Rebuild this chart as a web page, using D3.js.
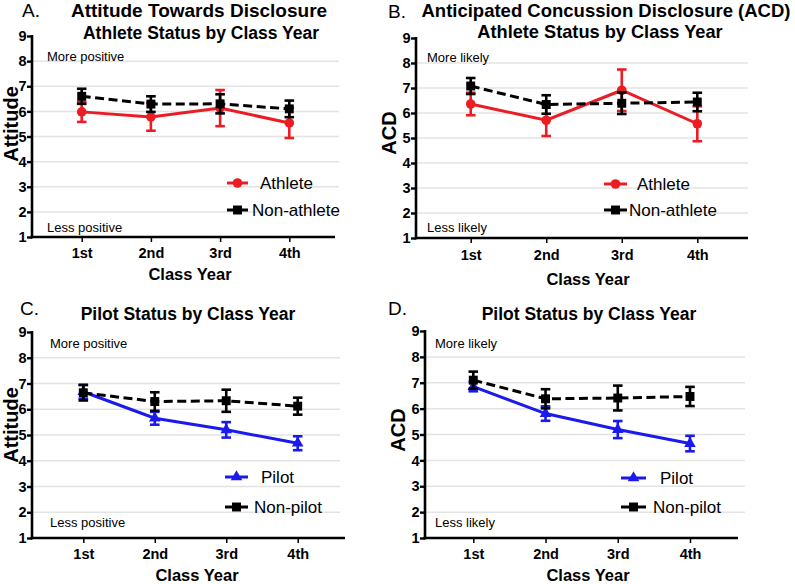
<!DOCTYPE html>
<html><head><meta charset="utf-8">
<script src="https://cdn.jsdelivr.net/npm/d3@7"></script>
<style>
body{margin:0;background:#fff}
svg{display:block}
text{font-family:"Liberation Sans",Arial,Helvetica,sans-serif;fill:#000}
</style>
</head><body><svg id="c" width="795" height="584"></svg>
<script>
// ---------------- data ----------------
const classYears = ["1st", "2nd", "3rd", "4th"];
const yTickValues = [1, 2, 3, 4, 5, 6, 7, 8, 9];
const gridValues = [2, 3, 4, 5, 6, 7, 8];

// Panel A: Attitude, athlete status
const attAthleteMean = [5.98, 5.78, 6.13, 5.54];
const attAthleteSem = [0.40, 0.55, 0.72, 0.60];
const attNonAthleteMean = [6.60, 6.29, 6.30, 6.10];
const attNonAthleteSem = [0.30, 0.31, 0.38, 0.33];
// Panel B: ACD, athlete status
const acdAthleteMean = [6.36, 5.71, 6.91, 5.57];
const acdAthleteSem = [0.45, 0.63, 0.83, 0.70];
const acdNonAthleteMean = [7.08, 6.34, 6.39, 6.44];
const acdNonAthleteSem = [0.32, 0.37, 0.43, 0.37];
// Panel C: Attitude, pilot status
const attPilotMean = [6.68, 5.65, 5.20, 4.68];
const attPilotSem = [0.27, 0.25, 0.30, 0.27];
const attNonPilotMean = [6.64, 6.30, 6.33, 6.12];
const attNonPilotSem = [0.30, 0.36, 0.43, 0.33];
// Panel D: ACD, pilot status
const acdPilotMean = [6.85, 5.81, 5.19, 4.65];
const acdPilotSem = [0.18, 0.28, 0.33, 0.30];
const acdNonPilotMean = [7.10, 6.38, 6.41, 6.47];
const acdNonPilotSem = [0.33, 0.37, 0.48, 0.37];

// text labels
const panelLetters = ["A.", "B.", "C.", "D."];
const panelTitles = ["Attitude Towards Disclosure", "Anticipated Concussion Disclosure (ACD)", "", ""];
const panelSubtitles = ["Athlete Status by Class Year", "Athlete Status by Class Year", "Pilot Status by Class Year", "Pilot Status by Class Year"];
const yTitles = ["Attitude", "ACD", "Attitude", "ACD"];
const highAnchors = ["More positive", "More likely", "More positive", "More likely"];
const lowAnchors = ["Less positive", "Less likely", "Less positive", "Less likely"];
const xTitle = "Class Year";
const athleteNames = ["Athlete", "Non-athlete"];
const pilotNames = ["Pilot", "Non-pilot"];

const RED = "#ec1c24", BLUE = "#1a1aec", BLACK = "#000";

// ---------------- layout ----------------
const panels = [
  { i: 0, lx: 22, ly: 17, tx: 199, ty: 17, ts: 19, sx: 201, sy: 39, ss: 17.5,
    ax: 32, yTop: 36, yBot: 237, xEnd: 335, gEnd: 339, x0: 81.7, x1: 289.3,
    ytx: 17.5, yty: 124, hx: 47, hy: 61, loy: 232,
    lg: { a: 227, b: 248, y1: 183, t1: 260, y2: 210, t2: 252 },
    xty: 258, xtx: 190, xtyy: 280,
    names: athleteNames, colors: [RED, BLACK], shapes: [d3.symbolCircle, d3.symbolSquare],
    series: [[attAthleteMean, attAthleteSem], [attNonAthleteMean, attNonAthleteSem]] },
  { i: 1, lx: 388, ly: 18, tx: 606, ty: 17, ts: 18.5, sx: 600, sy: 38, ss: 18.2,
    ax: 416, yTop: 38, yBot: 238, xEnd: 748, gEnd: 748, x0: 470.7, x1: 697.3,
    ytx: 396, yty: 133, hx: 427, hy: 62, loy: 232,
    lg: { a: 604, b: 627, y1: 184, t1: 637, y2: 210, t2: 629 },
    xty: 260, xtx: 588, xtyy: 285,
    names: athleteNames, colors: [RED, BLACK], shapes: [d3.symbolCircle, d3.symbolSquare],
    series: [[acdAthleteMean, acdAthleteSem], [acdNonAthleteMean, acdNonAthleteSem]] },
  { i: 2, lx: 20, ly: 315, tx: 0, ty: 0, ts: 0, sx: 188, sy: 320, ss: 17.5,
    ax: 32, yTop: 332, yBot: 538, xEnd: 345, gEnd: 340, x0: 83.3, x1: 297.7,
    ytx: 17.5, yty: 425, hx: 50, hy: 348, loy: 527,
    lg: { a: 225, b: 248, y1: 477, t1: 261, y2: 507, t2: 254 },
    xty: 559, xtx: 197, xtyy: 581,
    names: pilotNames, colors: [BLUE, BLACK], shapes: [d3.symbolTriangle, d3.symbolSquare],
    series: [[attPilotMean, attPilotSem], [attNonPilotMean, attNonPilotSem]] },
  { i: 3, lx: 388, ly: 315, tx: 0, ty: 0, ts: 0, sx: 589, sy: 320, ss: 17.5,
    ax: 425, yTop: 331, yBot: 538, xEnd: 738, gEnd: 745, x0: 473.3, x1: 690,
    ytx: 405, yty: 430, hx: 435, hy: 348, loy: 527,
    lg: { a: 621, b: 646, y1: 478, t1: 660, y2: 507, t2: 653 },
    xty: 559, xtx: 588, xtyy: 581,
    names: pilotNames, colors: [BLUE, BLACK], shapes: [d3.symbolTriangle, d3.symbolSquare],
    series: [[acdPilotMean, acdPilotSem], [acdNonPilotMean, acdNonPilotSem]] }
];

const svg = d3.select("#c");
const symSize = { circle: 72, square: 80, triangle: 58 };
function symbolPath(shape) {
  const s = shape === d3.symbolCircle ? symSize.circle : shape === d3.symbolSquare ? symSize.square : symSize.triangle;
  return d3.symbol().type(shape).size(s)();
}

panels.forEach(p => {
  const g = svg.append("g");
  const x = d3.scalePoint().domain(classYears).range([p.x0, p.x1]);
  const y = d3.scaleLinear().domain([1, 9]).range([p.yBot, p.yTop]);

  // panel letter & titles
  g.append("text").attr("x", p.lx).attr("y", p.ly).style("font-size", "19px").text(panelLetters[p.i]);
  if (panelTitles[p.i]) {
    g.append("text").attr("x", p.tx).attr("y", p.ty).attr("text-anchor", "middle")
      .style("font-size", p.ts + "px").style("font-weight", "bold").text(panelTitles[p.i]);
  }
  g.append("text").attr("x", p.sx).attr("y", p.sy).attr("text-anchor", "middle")
    .style("font-size", p.ss + "px").style("font-weight", "bold").text(panelSubtitles[p.i]);

  // gridlines
  g.append("g").selectAll("line").data(gridValues).join("line")
    .attr("x1", p.ax).attr("x2", p.gEnd)
    .attr("y1", d => y(d)).attr("y2", d => y(d))
    .attr("stroke", "#e3e3e3").attr("stroke-width", 1.5);

  // anchors
  g.append("text").attr("x", p.hx).attr("y", p.hy).style("font-size", "13px").text(highAnchors[p.i]);
  g.append("text").attr("x", p.hx).attr("y", p.loy).style("font-size", "13px").text(lowAnchors[p.i]);

  // y axis
  const ya = g.append("g").attr("transform", `translate(${p.ax},0)`)
    .call(d3.axisLeft(y).tickValues(yTickValues).tickFormat(d3.format("d")).tickSize(5).tickSizeOuter(0).tickPadding(0.5));
  ya.select(".domain").attr("stroke-width", 2.6).attr("d", `M0,${p.yTop - 1}V${p.yBot + 1.3}`);
  ya.selectAll(".tick line").attr("stroke-width", 2.4);
  ya.selectAll(".tick text").style("font-size", "14.5px").style("font-weight", "bold")
    .style("font-family", '"Liberation Sans",Arial,sans-serif');

  // x axis
  const xa = g.append("g").attr("transform", `translate(0,${p.yBot})`)
    .call(d3.axisBottom(x).tickSize(5).tickSizeOuter(0).tickPadding(9));
  xa.select(".domain").attr("stroke-width", 2.6).attr("d", `M${p.ax - 1.3},0H${p.xEnd}`);
  xa.selectAll(".tick line").attr("stroke-width", 1.5);
  xa.selectAll(".tick text").style("font-size", "14.5px").style("font-weight", "bold")
    .style("font-family", '"Liberation Sans",Arial,sans-serif')
    .attr("dy", null).attr("y", p.xty - p.yBot);

  // axis titles
  g.append("text").attr("x", p.xtx).attr("y", p.xtyy).attr("text-anchor", "middle")
    .style("font-size", "16.5px").style("font-weight", "bold").text(xTitle);
  g.append("text").attr("transform", `translate(${p.ytx},${p.yty}) rotate(-90)`)
    .attr("text-anchor", "middle").style("font-size", "20px").style("font-weight", "bold")
    .text(yTitles[p.i]);

  // series
  p.series.forEach((s, k) => {
    const [means, sems] = s;
    const col = p.colors[k];
    const pts = classYears.map((c, j) => ({ c, m: means[j], e: sems[j] }));
    const sg = g.append("g");
    sg.append("path").datum(pts)
      .attr("d", d3.line().x(d => x(d.c)).y(d => y(d.m)))
      .attr("fill", "none").attr("stroke", col).attr("stroke-width", 3)
      .attr("stroke-dasharray", k === 1 ? "9,4.5" : null);
    const eb = sg.append("g").selectAll("g").data(pts).join("g");
    eb.append("line").attr("x1", d => x(d.c)).attr("x2", d => x(d.c))
      .attr("y1", d => y(d.m - d.e)).attr("y2", d => y(d.m + d.e))
      .attr("stroke", col).attr("stroke-width", 2.6);
    [-1, 1].forEach(sgn => {
      eb.append("line").attr("x1", d => x(d.c) - 4.8).attr("x2", d => x(d.c) + 4.8)
        .attr("y1", d => y(d.m + sgn * d.e)).attr("y2", d => y(d.m + sgn * d.e))
        .attr("stroke", col).attr("stroke-width", 2.6);
    });
    sg.append("g").selectAll("path").data(pts).join("path")
      .attr("d", symbolPath(p.shapes[k]))
      .attr("transform", d => `translate(${x(d.c)},${y(d.m)})`)
      .attr("fill", col);

    // legend
    const ly = k === 0 ? p.lg.y1 : p.lg.y2;
    const tx = k === 0 ? p.lg.t1 : p.lg.t2;
    g.append("line").attr("x1", p.lg.a).attr("x2", p.lg.b).attr("y1", ly).attr("y2", ly)
      .attr("stroke", col).attr("stroke-width", 3);
    g.append("path").attr("d", symbolPath(p.shapes[k]))
      .attr("transform", `translate(${(p.lg.a + p.lg.b) / 2},${ly})`).attr("fill", col);
    g.append("text").attr("x", tx).attr("y", ly + 6).style("font-size", "17px").text(p.names[k]);
  });
});
</script>
</body></html>
